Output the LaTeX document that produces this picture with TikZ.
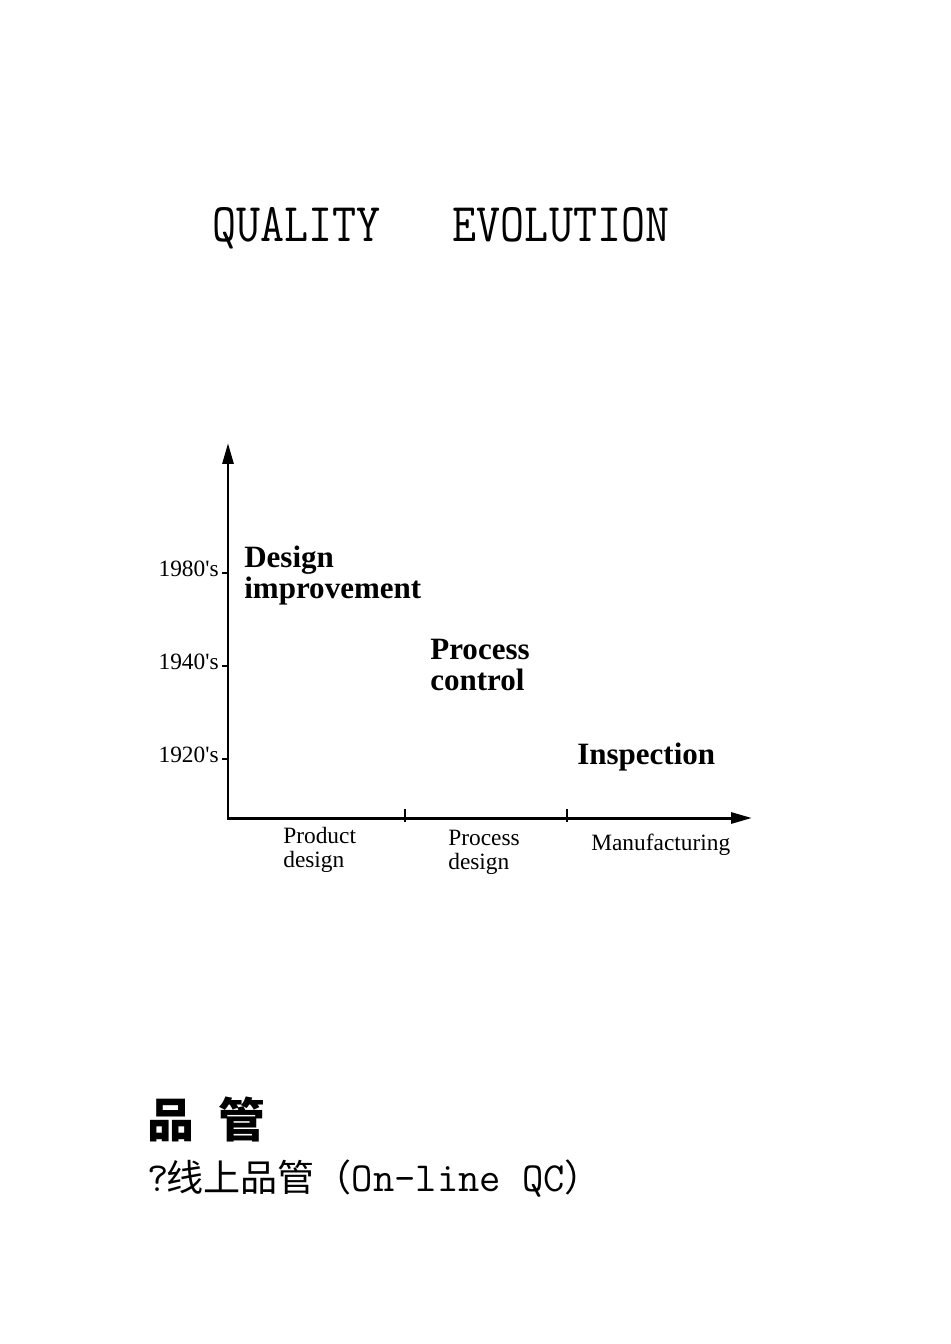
\documentclass[tikz,border=0pt]{standalone}
\usepackage{fontspec}
\setmainfont{Liberation Serif}
\newfontfamily\cjk{Noto Sans CJK SC}
\usetikzlibrary{arrows.meta}

\begin{document}
\begin{tikzpicture}[x=0.0221cm,y=-0.0221cm,
		axis/.style={draw=axiscolor,line width=0.066cm,line join=miter},
		yeartick/.style={draw=axiscolor,line width=0.045cm},
		headline/.style={inner sep=0,anchor=base west,xscale=0.856,font={\ttfamily\fontsize{34.3}{34.3}\selectfont}},
		year/.style={inner sep=0,anchor=base east,font={\fontsize{14.7}{14.6}\selectfont}},
		phase/.style={inner sep=0,anchor=base west,align=left,font={\fontsize{14.7}{14.6}\selectfont}},
		stage/.style={inner sep=0,anchor=base west,align=left,font={\fontsize{19.5}{19.4}\selectfont\bfseries}},
		note/.style={inner sep=0,anchor=base west,font={\cjk\fontsize{23.3}{23.3}\selectfont}}]
	% Colors
	\colorlet{axiscolor}{black}

	\def\xO{228} % origin of the axes, px
	\def\yO{818}

	\useasboundingbox (0,0) rectangle (950,1344);

	% Title
	\node[headline] (title) at (212,242) {QUALITY\ \ \ EVOLUTION};

	% Axes
	\coordinate (origin) at (\xO,\yO);
	\coordinate (ytop) at (\xO,443);
	\coordinate (xend) at (752,\yO);
	\draw[axis,{Triangle[length=0.46cm,width=0.24cm]}-{Triangle[length=0.46cm,width=0.24cm]}]
		(ytop) -- (origin) -- (xend);

	% Years on the vertical axis
	\foreach \yr/\ty in {1980/573,1940/666,1920/759}
	{
	  \coordinate (t\yr) at (\xO,\ty);
	  \draw[yeartick] (t\yr) -- ++(-6,0);
	  \node[year] (y\yr) at (219,\ty+3) {\yr\textquotesingle s};
	}

	% Phases on the horizontal axis (anchored on the last line)
	\foreach \tx in {405,567}
	  \draw[yeartick] (\tx,\yO-9) -- (\tx,\yO+4);

	\node[phase] (product) at (283,867) {Product\\design};
	\node[phase] (process) at (448,869) {Process\\design};
	\node[phase] (manufacturing) at (591,850) {Manufacturing};

	% Stages
	\node[stage] (improvement) at (244,598) {Design\\improvement};
	\node[stage] (control) at (430,690) {Process\\control};
	\node[stage] (inspection) at (577,764) {Inspection};

	% Notes
	\node[note,font={\cjk\bfseries\fontsize{29.5}{29.5}\selectfont}] (qc) at (147,1137) {品\hspace{0.53cm}管};
	\node[note] (online) at (147,1191) {{\ttfamily\fontsize{26}{26}\selectfont ?\kern-0.05em}线上品管（{\ttfamily\fontsize{26}{26}\selectfont On-line QC}）};
\end{tikzpicture}
\end{document}
